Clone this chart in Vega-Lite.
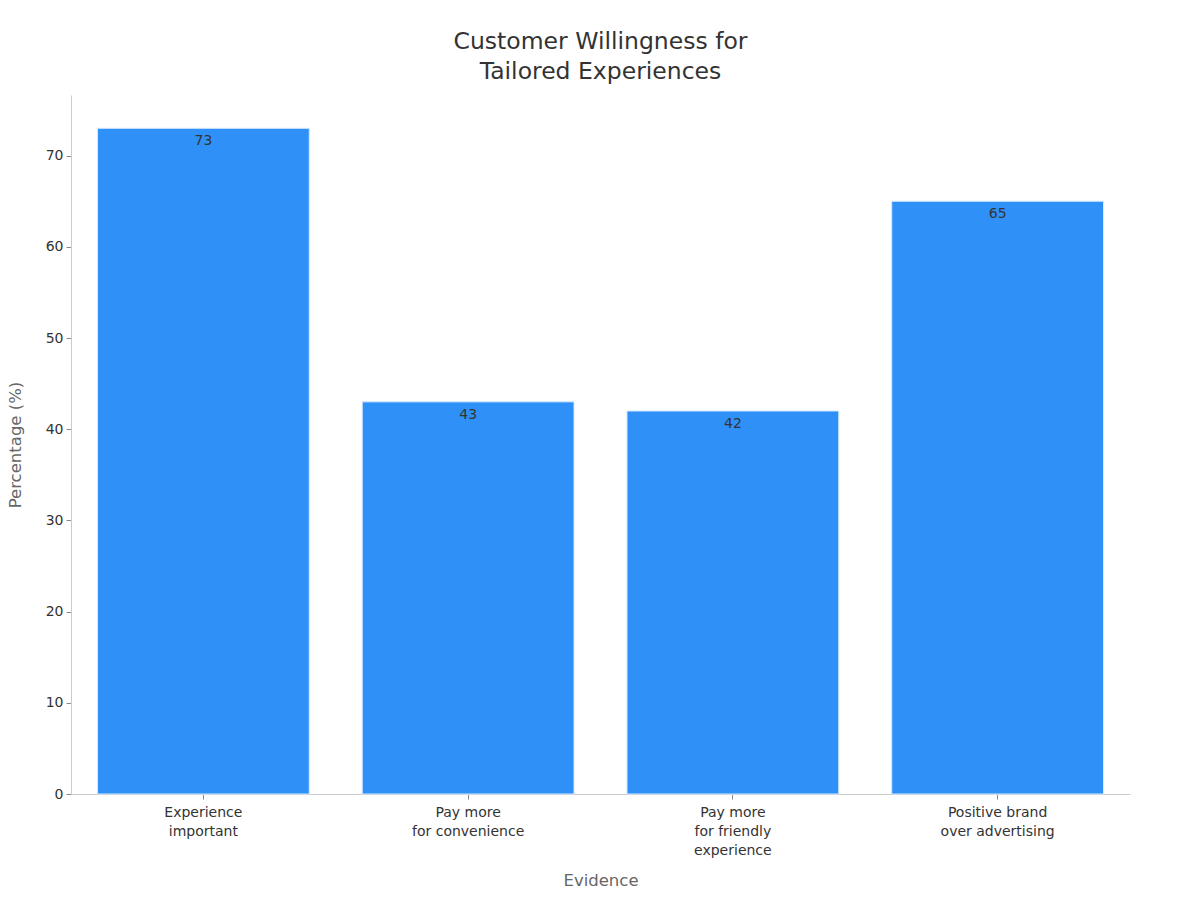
{
  "$schema": "https://vega.github.io/schema/vega-lite/v6.json",
  "width": 1059,
  "height": 699,
  "autosize": "none",
  "padding": {"left": 71, "top": 95, "right": 70, "bottom": 106},
  "background": "white",
  "config": {"view": {"stroke": null}, "font": "DejaVu Sans"},
  "title": {
    "text": ["Customer Willingness for", "Tailored Experiences"],
    "fontSize": 23.5,
    "fontWeight": "normal",
    "color": "#333333",
    "lineHeight": 30,
    "anchor": "middle",
    "offset": 12,
    "font": "DejaVu Sans"
  },
  "data": {
    "values": [
      {"evidence": "Experience|important", "pct": 73},
      {"evidence": "Pay more|for convenience", "pct": 43},
      {"evidence": "Pay more|for friendly|experience", "pct": 42},
      {"evidence": "Positive brand|over advertising", "pct": 65}
    ]
  },
  "encoding": {
    "x": {
      "field": "evidence",
      "type": "nominal",
      "sort": null,
      "scale": {"paddingInner": 0.2, "paddingOuter": 0.1},
      "axis": {
        "title": "Evidence",
        "labelExpr": "split(datum.label, '|')",
        "labelAngle": 0,
        "labelFontSize": 14,
        "labelColor": "#333333",
        "labelLineHeight": 19,
        "labelPadding": 6,
        "tickColor": "#888888",
        "tickSize": 5,
        "domainColor": "#cccccc",
        "titleFontSize": 16.5,
        "titleFontWeight": "normal",
        "titleColor": "#666666",
        "titlePadding": 15
      }
    },
    "y": {
      "field": "pct",
      "type": "quantitative",
      "scale": {"domain": [0, 76.65], "nice": false},
      "axis": {
        "title": "Percentage (%)",
        "values": [0, 10, 20, 30, 40, 50, 60, 70],
        "grid": false,
        "labelFontSize": 14,
        "labelColor": "#333333",
        "labelPadding": 3,
        "tickColor": "#888888",
        "tickSize": 5,
        "domainColor": "#cccccc",
        "titleFontSize": 16.5,
        "titleFontWeight": "normal",
        "titleColor": "#666666",
        "titlePadding": 22
      }
    }
  },
  "layer": [
    {"mark": {"type": "bar", "color": "#2f91f7", "stroke": "#d6e9ff", "strokeWidth": 1}},
    {
      "mark": {"type": "text", "dy": 13, "baseline": "middle", "fontSize": 14, "color": "#333333"},
      "encoding": {"text": {"field": "pct", "type": "quantitative"}}
    }
  ]
}
